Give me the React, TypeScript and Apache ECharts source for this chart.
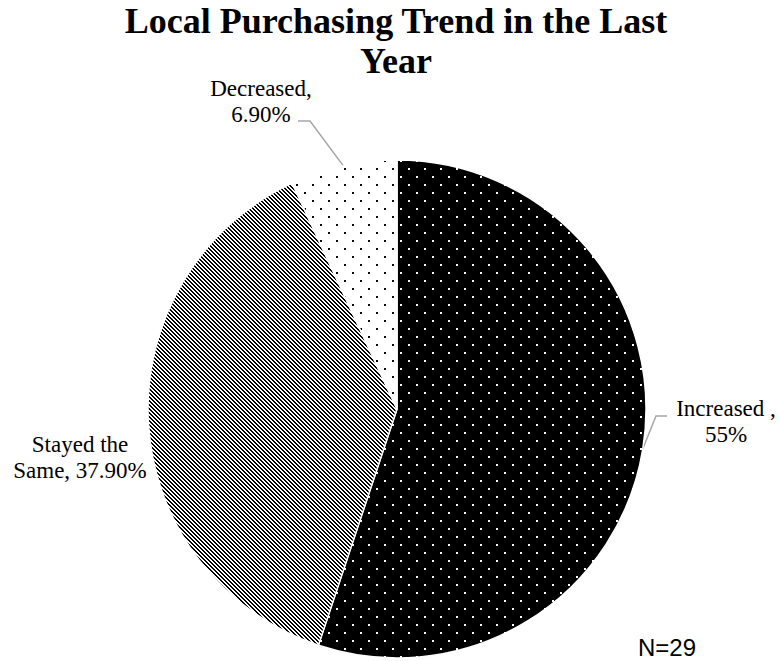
import React, { useEffect, useRef } from "react";
import * as echarts from "echarts";

const categories = ["Increased ", "Stayed the Same", "Decreased"];
const values = [55, 37.9, 6.9];
const valueLabels = ["55%", "37.90%", "6.90%"];
const titleText = "Local Purchasing Trend in the Last\nYear";
const noteText = "N=29";

// label anchor placement (layout only)
const labelAnchors: [number, number][] = [
  [726, 421],
  [80, 457],
  [261, 101],
];
const labelLineBends: ([number, number][] | null)[] = [
  [[656, 416], [667, 416]],
  null,
  [[310, 121], [298, 121]],
];

function makeTile(size: number, bg: string, fg: string, cells: [number, number][]) {
  const c = document.createElement("canvas");
  c.width = size;
  c.height = size;
  const ctx = c.getContext("2d")!;
  ctx.fillStyle = bg;
  ctx.fillRect(0, 0, size, size);
  ctx.fillStyle = fg;
  cells.forEach(([x, y]) => ctx.fillRect(x, y, 1, 1));
  return c;
}

function dotCells(): [number, number][] {
  const cells: [number, number][] = [];
  [[0, 0], [8, 8]].forEach(([x, y]) => {
    cells.push([x, y], [x + 1, y], [x, y + 1], [x + 1, y + 1]);
  });
  return cells;
}

function stripeCells(): [number, number][] {
  const cells: [number, number][] = [];
  for (let y = 0; y < 4; y++) {
    cells.push([y % 4, y], [(y + 1) % 4, y]);
  }
  return cells;
}

function buildLabel(i: number) {
  const name = categories[i];
  if (i === 1) return "Stayed the\nSame, " + valueLabels[i];
  return name + ",\n" + valueLabels[i];
}

const SERIF = "Liberation Serif";

export default function App() {
  const ref = useRef<HTMLDivElement>(null);
  useEffect(() => {
    if (!ref.current) return;
    const chart = echarts.init(ref.current, null, { renderer: "svg" });
    const darkDots = makeTile(16, "#000000", "#ffffff", dotCells());
    const stripes = makeTile(4, "#ffffff", "#000000", stripeCells());
    const lightDots = makeTile(16, "#ffffff", "#000000", dotCells());
    const fills = [darkDots, stripes, lightDots].map((img) => ({
      image: img,
      repeat: "repeat",
      imageWidth: img.width,
      imageHeight: img.height,
    }));

    chart.setOption({
      animation: false,
      backgroundColor: "#ffffff",
      title: {
        text: titleText,
        left: 396,
        top: 1,
        padding: 0,
        textAlign: "center",
        textStyle: {
          fontFamily: SERIF,
          fontWeight: "bold",
          fontSize: 36,
          lineHeight: 40,
          color: "#000000",
        },
      },
      graphic: [
        {
          type: "text",
          left: 638,
          top: 635,
          style: {
            text: noteText,
            fontFamily: "Liberation Sans",
            fontSize: 24,
            fill: "#000000",
          },
        },
      ],
      series: [
        {
          type: "pie",
          center: [397, 409],
          radius: 249,
          startAngle: 90,
          clockwise: true,
          silent: true,
          emphasis: { disabled: true },
          data: categories.map((name, i) => ({
            name,
            value: values[i],
            itemStyle: { color: fills[i] as any },
            labelLine: { show: labelLineBends[i] !== null },
          })),
          itemStyle: { borderColor: "#ffffff", borderWidth: 1.5 },
          label: {
            show: true,
            position: "outside",
            overflow: "none",
            formatter: (p: any) => buildLabel(p.dataIndex),
            fontFamily: SERIF,
            fontSize: 23,
            lineHeight: 26,
            color: "#000000",
            align: "center",
          },
          labelLine: {
            show: true,
            length: 20,
            length2: 10,
            lineStyle: { color: "#a6a6a6", width: 1.5 },
          },
          labelLayout: (params: any) => {
            const i = params.dataIndex;
            const [x, y] = labelAnchors[i];
            const bends = labelLineBends[i];
            const res: any = { x, y, align: "center", verticalAlign: "middle" };
            if (bends && params.labelLinePoints) {
              res.labelLinePoints = [params.labelLinePoints[0], bends[0], bends[1]];
            }
            return res;
          },
        },
      ],
    });
    return () => chart.dispose();
  }, []);
  return (
    <div
      ref={ref}
      style={{ position: "absolute", left: 0, top: 0, width: 779, height: 661 }}
    />
  );
}
